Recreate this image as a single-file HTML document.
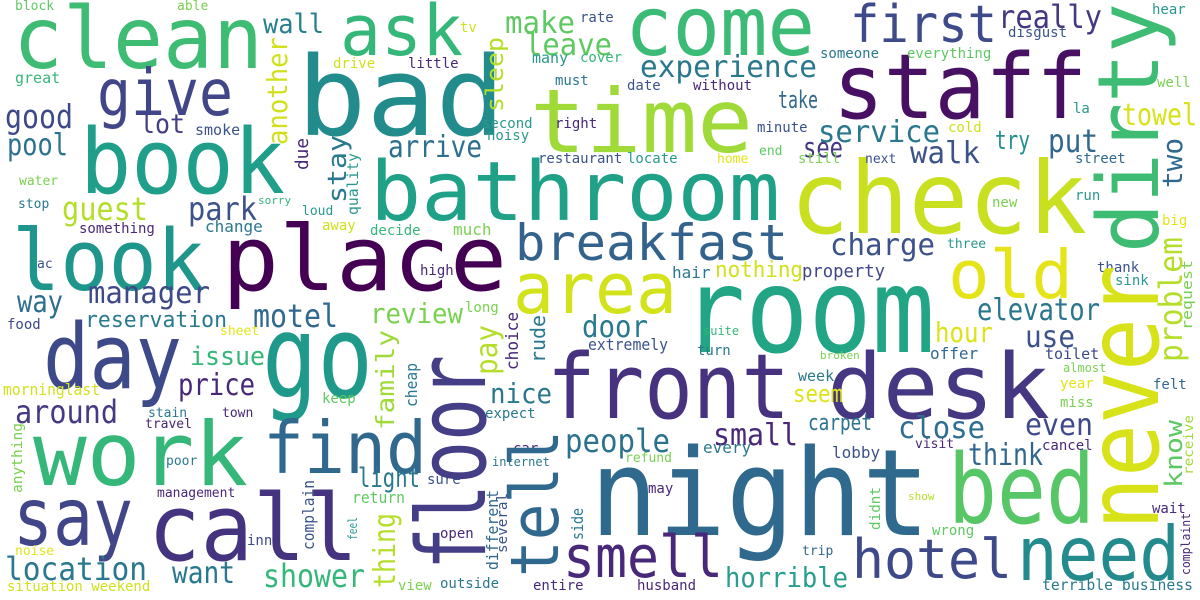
<!DOCTYPE html>
<html><head><meta charset="utf-8"><style>
html,body{margin:0;padding:0;background:#fff;}
svg{display:block;font-family:"DejaVu Sans Mono","Liberation Mono",monospace;}
</style></head><body>
<svg id="cloud" width="1200" height="600" viewBox="0 0 1200 600"></svg>
<script>
// Horizontal words: word, x, baseline-y, font size, color, length (0 = natural)
const hWords = [
["clean",13,68,86,"#3fbc73",250],["bad",297,135,110,"#228c8d",208],["ask",340,55,70,"#35b779",123],
["come",625,55,82,"#3bbb75",190],["staff",833,118,90,"#471063",254],["first",850,42,52,"#3e4a89",147],
["really",998,28,32,"#453781",104],["time",530,152,88,"#a0da39",223],["give",97,115,64,"#404688",136],
["book",80,193,90,"#1f9e89",205],["make",505,33,30,"#5ec962",70],["leave",525,55,30,"#5ec962",87],
["experience",640,77,30,"#2a788e",177],["wall",263,33,27,"#277f8e",61],["good",5,128,33,"#3e4989",68],
["lot",140,133,27,"#433e85",45],["smoke",195,135,15,"#3b528b",0],["pool",7,155,30,"#2c728e",61],
["bathroom",370,220,82,"#1fa187",410],["check",790,233,100,"#c8e020",297],["service",818,142,30,"#2a788e",122],
["take",778,108,24,"#31688e",40],["put",1048,152,32,"#31688e",50],["walk",910,163,30,"#3b528b",70],
["see",803,157,28,"#443983",40],["arrive",388,157,30,"#2d708e",94],["try",995,149,26,"#21918c",35],
["towel",1122,125,30,"#d8e219",75],["guest",62,220,32,"#b5de2b",86],["park",188,220,32,"#3b528b",69],
["breakfast",515,260,50,"#33638d",273],["charge",830,255,30,"#3b528b",105],["look",12,290,85,"#1f968b",193],
["place",222,290,90,"#440154",285],["area",513,313,70,"#d2e21b",164],["old",948,298,67,"#e5e419",125],
["room",682,352,118,"#21a585",253],["manager",88,303,30,"#3e4989",122],["way",17,312,30,"#2e6f8e",46],
["nothing",715,277,22,"#d0e11c",88],["property",802,277,18,"#404588",83],["hair",672,278,16,"#2a788e",0],
["motel",253,327,32,"#31688e",85],["reservation",85,327,22,"#29798e",142],["review",370,323,28,"#7ad151",93],
["door",582,337,30,"#2a788e",66],["elevator",977,320,30,"#2a768e",123],["hour",935,342,28,"#dde318",58],
["use",1025,347,30,"#3b528b",50],["day",43,388,90,"#3e4989",139],["go",262,397,115,"#1f9a8a",111],
["front",547,418,90,"#46327e",243],["desk",827,418,90,"#453781",223],["issue",190,365,26,"#35b779",75],
["price",178,395,30,"#482878",77],["nice",490,403,28,"#2a788e",62],["extremely",588,350,16,"#3b528b",80],
["offer",930,359,16,"#31688e",0],["toilet",1045,359,15,"#3e4989",0],["morninglast",3,395,16,"#d2e21b",97],
["around",15,423,32,"#443a83",103],["people",565,452,32,"#2c728e",105],["small",713,445,30,"#482878",85],
["seem",793,402,24,"#dde318",50],["week",798,381,15,"#2a788e",0],["close",898,438,30,"#2e6e8e",87],
["even",1025,435,30,"#3e4a89",68],["work",33,485,88,"#35b779",215],["find",263,473,72,"#31688e",164],
["say",13,545,80,"#404688",120],["call",148,560,92,"#46337f",210],["think",968,465,30,"#31668e",75],
["carpet",808,430,22,"#2c728e",64],["night",590,535,120,"#30698e",340],["bed",948,523,96,"#56c667",147],
["hotel",852,578,54,"#3e4989",160],["need",1017,580,75,"#238a8d",163],["smell",563,577,58,"#482878",160],
["shower",263,587,32,"#35b779",102],["location",5,580,32,"#2a788e",142],["want",172,583,30,"#2a788e",63],
["horrible",725,587,28,"#2a9d8e",123],["light",358,487,27,"#2a788e",62],["return",352,503,16,"#5ec962",53],
["lobby",832,458,16,"#3b528b",0],["terrible business",1042,590,15,"#2a788e",151],
["block",15,10,13,"#5ec962",0],["able",177,10,13,"#7ad151",0],["tv",460,32,14,"#d0e11c",0],
["rate",580,22,14,"#3b528b",0],["hear",1152,14,14,"#2a988e",0],["disgust",1008,37,14,"#3b528b",0],
["cover",580,62,14,"#35b779",0],["drive",333,68,14,"#d0e11c",0],["little",408,68,14,"#482878",0],
["many",532,63,15,"#2a988e",0],["date",627,90,14,"#3b528b",0],["without",693,90,14,"#482878",0],
["must",555,85,14,"#2a788e",0],["great",15,83,15,"#35b779",0],["someone",820,58,14,"#2a788e",0],
["everything",907,58,14,"#5ec962",0],["well",1157,87,14,"#7ad151",0],["la",1073,113,14,"#2a988e",0],
["minute",757,132,14,"#3b528b",0],["second",482,128,14,"#2a988e",0],["right",555,128,14,"#482878",0],
["noisy",487,140,14,"#2a988e",0],["cold",948,132,14,"#d0e11c",0],["restaurant",538,163,14,"#3b528b",0],
["locate",627,163,14,"#2a988e",0],["home",717,163,13,"#e5e419",0],["end",759,155,13,"#5ec962",0],
["still",798,163,14,"#7ad151",0],["next",865,163,13,"#3b528b",0],["street",1075,163,14,"#31688e",0],
["water",19,185,13,"#7ad151",0],["run",1075,200,14,"#2a988e",0],["sorry",258,204,11,"#35b779",0],
["loud",302,215,13,"#2a988e",0],["stop",18,208,13,"#2a788e",0],["something",79,233,14,"#482878",0],
["change",205,232,16,"#2a788e",0],["away",322,230,14,"#d0e11c",0],["decide",370,235,14,"#35b779",0],
["much",453,235,16,"#7ad151",0],["new",992,207,14,"#7ad151",0],["big",1162,225,14,"#e5e419",0],
["three",947,248,13,"#2a988e",0],["ac",37,268,13,"#3b528b",0],["high",420,275,14,"#482878",0],
["thank",1097,272,14,"#3b528b",0],["sink",1115,285,14,"#2a988e",0],["long",465,312,14,"#7ad151",0],
["sheet",220,335,13,"#e5e419",0],["suite",703,335,12,"#35b779",0],["food",7,329,14,"#3e4989",0],
["turn",697,355,14,"#2a788e",0],["broken",820,359,11,"#7ad151",0],["almost",1063,372,12,"#7ad151",0],
["year",1060,388,14,"#e5e419",0],["felt",1153,389,14,"#31688e",0],["miss",1060,407,14,"#7ad151",0],
["keep",322,403,14,"#5ec962",0],["stain",148,417,13,"#2a788e",0],["town",222,417,13,"#482878",0],
["expect",485,418,14,"#2a788e",0],["travel",145,428,13,"#482878",0],["visit",915,448,13,"#482878",0],
["every",703,453,16,"#2a788e",0],["refund",625,462,13,"#7ad151",0],["cancel",1042,450,14,"#482878",0],
["car",513,453,14,"#482878",0],["internet",492,466,12,"#2a788e",0],["poor",166,465,13,"#2a788e",0],
["management",157,497,13,"#482878",0],["sure",427,484,14,"#3b528b",0],["may",648,493,14,"#482878",0],
["show",908,500,11,"#b5de2b",0],["wait",1152,513,14,"#482878",0],["noise",15,555,13,"#e5e419",0],
["inn",247,545,14,"#3e4989",0],["open",440,538,14,"#482878",0],["wrong",932,535,14,"#5ec962",0],
["trip",802,555,13,"#31688e",0],["situation weekend",7,591,14,"#d0e11c",0],["view",398,590,14,"#7ad151",0],
["outside",440,588,14,"#2a788e",0],["entire",533,590,14,"#482878",0],["husband",637,590,14,"#482878",0]
];
// Vertical words: word, baseline x, bottom y, font size, color, length (0 = natural)
const vWords = [
["dirty",1158,253,85,"#3fbc73",250],["never",1158,530,100,"#d8e219",265],["floor",485,570,95,"#433e85",215],
["tell",558,577,67,"#31688e",147],["another",287,145,28,"#d0e11c",108],["sleep",503,112,24,"#b5de2b",75],
["stay",346,203,26,"#2a788e",68],["due",308,170,18,"#482878",32],["quality",358,215,15,"#2a988e",62],
["family",394,430,25,"#a0da39",100],["pay",497,375,30,"#b5de2b",50],["choice",518,370,17,"#482878",58],
["rude",545,363,20,"#2a788e",48],["cheap",417,407,16,"#2a788e",44],["thing",395,588,30,"#b5de2b",75],
["complain",314,550,16,"#3b528b",70],["feel",357,540,12,"#2a988e",23],["different",498,570,16,"#31688e",80],
["several",507,553,14,"#3b528b",60],["side",583,540,16,"#2a788e",32],["two",1182,188,28,"#31688e",50],
["problem",1182,362,32,"#b5de2b",125],["know",1182,488,24,"#5ec962",68],["request",1192,330,14,"#7ad151",70],
["receive",1193,475,13,"#a0da39",60],["complaint",1190,575,12,"#482878",62],["anything",22,493,14,"#7ad151",70],
["didnt",880,530,14,"#5ec962",43]
];
const svg = document.getElementById('cloud');
const NS = 'http://www.w3.org/2000/svg';
function makeText(w) {
  const t = document.createElementNS(NS, 'text');
  t.setAttribute('font-size', w[3]);
  t.setAttribute('fill', w[4]);
  if (w[5]) {
    t.setAttribute('textLength', w[5]);
    t.setAttribute('lengthAdjust', 'spacingAndGlyphs');
  }
  t.textContent = w[0];
  return t;
}
for (const w of hWords) {
  const t = makeText(w);
  
  
  t.setAttribute('x', w[1]);
  t.setAttribute('y', w[2]);
  svg.appendChild(t);
}
for (const w of vWords) {
  const t = makeText(w);
  
  
  t.setAttribute('transform', 'translate(' + w[1] + ',' + w[2] + ') rotate(-90)');
  svg.appendChild(t);
}
</script>
</body></html>
